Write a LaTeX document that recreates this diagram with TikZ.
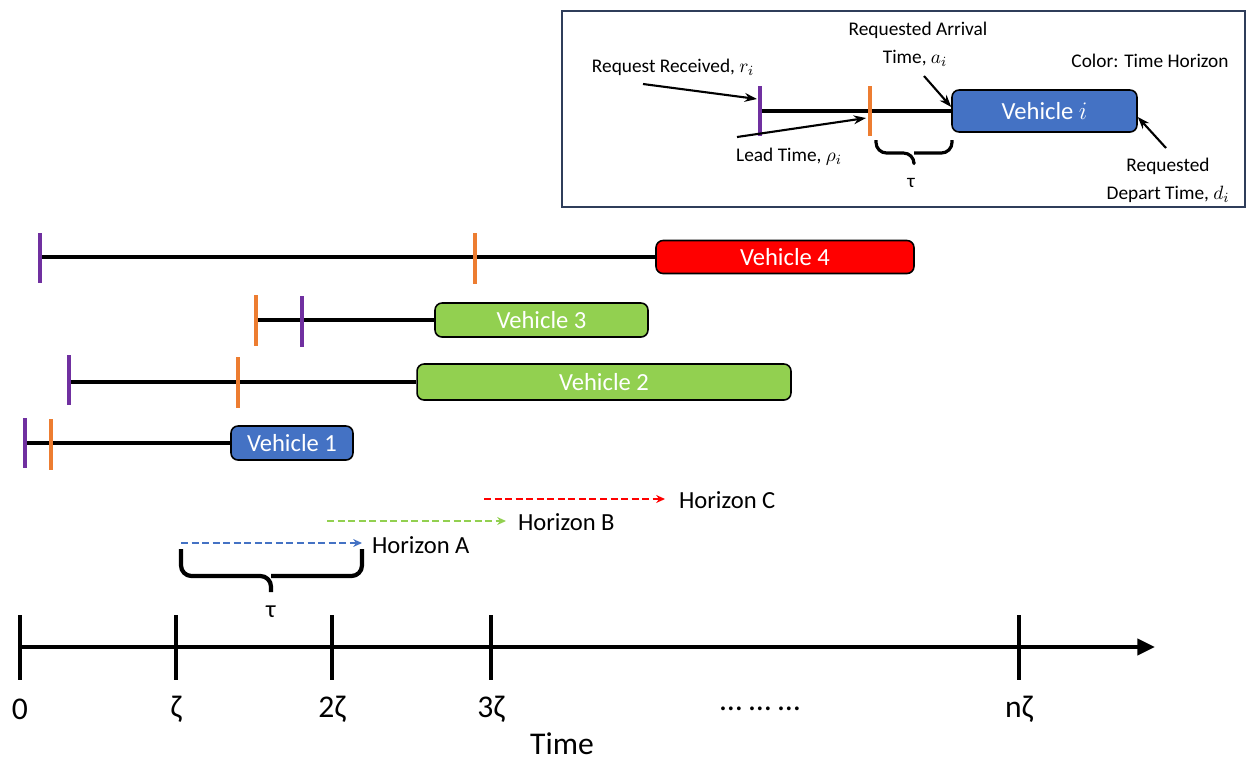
\documentclass[tikz,border=0pt]{standalone}
\usepackage{fontspec}
\setmainfont{Carlito}
\usetikzlibrary{arrows.meta}
\definecolor{vblue}{HTML}{4472C4}
\definecolor{vgreen}{HTML}{92D050}
\definecolor{vred}{HTML}{FF0000}
\definecolor{rpurple}{HTML}{7030A0}
\definecolor{rorange}{HTML}{ED7D31}
\definecolor{framecol}{HTML}{2F3D5A}
\begin{document}
\begin{tikzpicture}[x=0.02cm,y=-0.02cm,
  vbox/.style={draw=black,line width=0.9pt,rounded corners=4pt,inner sep=0pt,text=white,font=\fontsize{14}{16}\selectfont},
  tl/.style={line width=2.4pt,black},
  ptick/.style={line width=2.8pt,rpurple},
  otick/.style={line width=2.8pt,rorange},
  lbl/.style={font=\fontsize{14}{16}\selectfont,inner sep=1pt},
  ilbl/.style={font=\fontsize{11}{13}\selectfont,inner sep=1pt},
  albl/.style={font=\fontsize{18}{20}\selectfont,inner sep=1pt},
  iarrow/.style={line width=1.2pt,-{Stealth[length=7pt,width=5pt]}},
  hz/.style={line width=1.5pt,dash pattern=on 4pt off 2pt,-{Stealth[length=5pt,width=4.5pt]}},
  brk/.style={line width=#1,rounded corners=6pt,line join=round},
  axtick/.style={line width=2pt}]
\useasboundingbox (0,0) rectangle (1247,762);

% ---------- inset ----------
\draw[framecol,line width=1.2pt] (562,11) rectangle (1245,207);
\node[vbox,fill=vblue,minimum width=3.7cm,minimum height=0.84cm] (vi) at (1044.5,111) {Vehicle $i$};
\coordinate (ir) at (760,111);
\draw[tl] (ir) -- (vi.west);
\draw[ptick] (760,86) -- (760,136);
\draw[otick] (870,86) -- (870,136);
\coordinate (irt) at (757,99);
\coordinate (iot) at (866,118);
\node[ilbl] (rr) at (673,67) {Request Received, $r_i$};
\node[ilbl] (lt) at (789,157) {Lead Time, $\rho_i$};
\node[ilbl] (ra1) at (918,30) {Requested Arrival};
\node[ilbl] (ra2) at (915,58) {Time, $a_i$};
\node[ilbl] (ch) at (1150,61) {Color: Time Horizon};
\node[ilbl] (rd1) at (1168,166) {Requested};
\node[ilbl] (rd2) at (1168,194) {Depart Time, $d_i$};
\coordinate (rrs) at (643,84);
\coordinate (lts) at (737,137);
\coordinate (ras) at (924,76);
\coordinate (rds) at (1166,148);
\draw[iarrow] (rrs) -- (irt);
\draw[iarrow] (lts) -- (iot);
\draw[iarrow] (ras) -- (vi.west |- 0,107);
\draw[iarrow] (rds) -- (vi.east |- 0,117);
\coordinate (ib) at (914,153);
\draw[brk=1.8pt] (876,140) |- (ib) -- (914,162);
\draw[brk=1.8pt] (952,140) |- (ib);
\node[ilbl] (itau) at (911,183) {τ};

% ---------- vehicle rows ----------
\node[vbox,fill=vred,minimum width=5.16cm,minimum height=0.66cm] (v4) at (785,257) {Vehicle 4};
\coordinate (r4) at (40,257);
\draw[tl] (r4) -- (v4.west);
\draw[ptick] (40,233) -- (40,283);
\draw[otick] (475,233) -- (475,284);

\node[vbox,fill=vgreen,minimum width=4.26cm,minimum height=0.68cm] (v3) at (541.5,320) {Vehicle 3};
\coordinate (r3) at (256,320);
\draw[tl] (r3) -- (v3.west);
\draw[otick] (256,295) -- (256,346);
\draw[ptick] (302,296) -- (302,347);

\node[vbox,fill=vgreen,minimum width=7.48cm,minimum height=0.72cm] (v2) at (604,382) {Vehicle 2};
\coordinate (r2) at (69,382);
\draw[tl] (r2) -- (v2.west);
\draw[ptick] (69,355) -- (69,405);
\draw[otick] (238,357) -- (238,408);

\node[vbox,fill=vblue,minimum width=2.44cm,minimum height=0.68cm] (v1) at (292,443) {Vehicle 1};
\coordinate (r1) at (25,443);
\draw[tl] (r1) -- (v1.west);
\draw[ptick] (25,418) -- (25,468);
\draw[otick] (51,419) -- (51,470);

% ---------- horizons ----------
\coordinate (ha0) at (181,543);
\node[lbl,anchor=west] (ha) at (370,545) {Horizon A};
\draw[hz,vblue] (ha0) -- (362,543);
\coordinate (hb0) at (327,521);
\node[lbl,anchor=west] (hb) at (516,522) {Horizon B};
\draw[hz,vgreen] (hb0) -- (506,521);
\coordinate (hc0) at (484,499);
\node[lbl,anchor=west] (hc) at (677,500) {Horizon C};
\draw[hz,vred] (hc0) -- (665,499);

\coordinate (mb) at (271,576);
\draw[brk=2.4pt] (181,549) |- (mb) -- (271,592);
\draw[brk=2.4pt] (362,549) |- (mb);
\node[lbl] (tau) at (271,612) {τ};

% ---------- time axis ----------
\coordinate (a0) at (20,647);
\coordinate (aend) at (1155,647);
\draw[line width=2.4pt,-{Triangle[length=10pt,width=9pt]}] (a0) -- (aend);
\foreach \x in {20,176,332,491,1019} \draw[axtick] (\x,615) -- (\x,680);
\node[albl] (l0) at (20,709) {0};
\node[albl] (l1) at (176,709) {ζ};
\node[albl] (l2) at (332,709) {2ζ};
\node[albl] (l3) at (491,709) {3ζ};
\node[albl] (ld) at (760,709) {… … …};
\node[albl] (ln) at (1019,709) {nζ};
\node[albl] (time) at (562,744) {Time};
\end{tikzpicture}
\end{document}
